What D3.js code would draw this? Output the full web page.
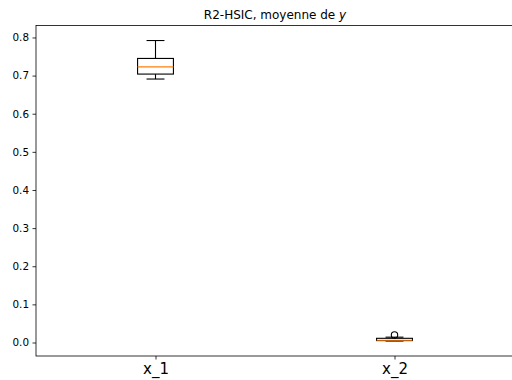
<!DOCTYPE html>
<html><head><meta charset="utf-8">
<script src="https://cdn.jsdelivr.net/npm/d3@7"></script>
<style>body{margin:0;background:#fff}svg{display:block}</style>
</head><body>
<svg id="c" width="512" height="380"></svg>
<script>
const categories = ["x_1", "x_2"];
// box stats: [lowWhisker, q1, median, q3, highWhisker]
const boxStats = [
  [0.691, 0.704, 0.723, 0.745, 0.792],
  [0.004, 0.005, 0.006, 0.011, 0.014]
];
const outliers = [[], [0.020]];
const yTicks = [0.0, 0.1, 0.2, 0.3, 0.4, 0.5, 0.6, 0.7, 0.8];

const svg = d3.select("#c");
const L = 36, R = 514, T = 25.5, B = 356;
const allV = boxStats.flat().concat(outliers.flat());
const vmin = d3.min(allV), vmax = d3.max(allV), pad = (vmax - vmin) * 0.05;
const y = d3.scaleLinear().domain([vmin - pad, vmax + pad]).range([B, T]);
const x = d3.scaleLinear().domain([0.5, categories.length + 0.5]).range([L, R]);
const bw = 0.15;

// y axis
const ya = svg.append("g").attr("transform", `translate(${L},0)`)
  .call(d3.axisLeft(y).tickValues(yTicks).tickFormat(d3.format(".1f")).tickSize(3.5).tickPadding(3.5));
ya.select(".domain").remove();
ya.selectAll("text").attr("font-family", "DejaVu Sans").attr("font-size", 10.4).attr("fill", "#000");
ya.selectAll("line").attr("stroke", "#000").attr("stroke-width", 0.8);

const xa = svg.append("g").attr("transform", `translate(0,${B})`)
  .call(d3.axisBottom(x).tickValues(categories.map((c, i) => i + 1)).tickFormat((d, i) => categories[i]).tickSize(3.5).tickPadding(3.5));
xa.select(".domain").remove();
xa.selectAll("text").attr("font-family", "DejaVu Sans").attr("font-size", 15).attr("fill", "#000");
xa.selectAll("line").attr("stroke", "#000").attr("stroke-width", 0.8);

// spines
svg.append("rect").attr("x", L).attr("y", T).attr("width", R - L).attr("height", B - T)
  .attr("fill", "none").attr("stroke", "#000").attr("stroke-width", 0.8);

// boxes
const g = svg.append("g");
boxStats.forEach((s, i) => {
  const cx = x(i + 1), x0 = x(i + 1 - bw / 2), x1 = x(i + 1 + bw / 2);
  const c0 = x(i + 1 - bw / 4), c1 = x(i + 1 + bw / 4);
  const ln = (a, b, c, d, col) => g.append("line").attr("x1", a).attr("y1", b).attr("x2", c).attr("y2", d)
    .attr("stroke", col || "#000").attr("stroke-width", 1.1);
  ln(cx, y(s[0]), cx, y(s[1]));
  ln(cx, y(s[3]), cx, y(s[4]));
  ln(c0, y(s[0]), c1, y(s[0]));
  ln(c0, y(s[4]), c1, y(s[4]));
  g.append("rect").attr("x", x0).attr("y", y(s[3])).attr("width", x1 - x0).attr("height", y(s[1]) - y(s[3]))
    .attr("fill", "none").attr("stroke", "#000").attr("stroke-width", 1.1);
  ln(x0, y(s[2]), x1, y(s[2]), "#ff7f0e");
  outliers[i].forEach(o => {
    g.append("circle").attr("cx", cx).attr("cy", y(o)).attr("r", 3.2)
      .attr("fill", "none").attr("stroke", "#000").attr("stroke-width", 1.1);
  });
});

// title
const t = svg.append("text").attr("x", (L + R) / 2).attr("y", 19).attr("text-anchor", "middle")
  .attr("font-family", "DejaVu Sans").attr("font-size", 12).attr("fill", "#000");
t.append("tspan").text("R2-HSIC, moyenne de ");
t.append("tspan").attr("font-style", "italic").text("y");
</script>
</body></html>
